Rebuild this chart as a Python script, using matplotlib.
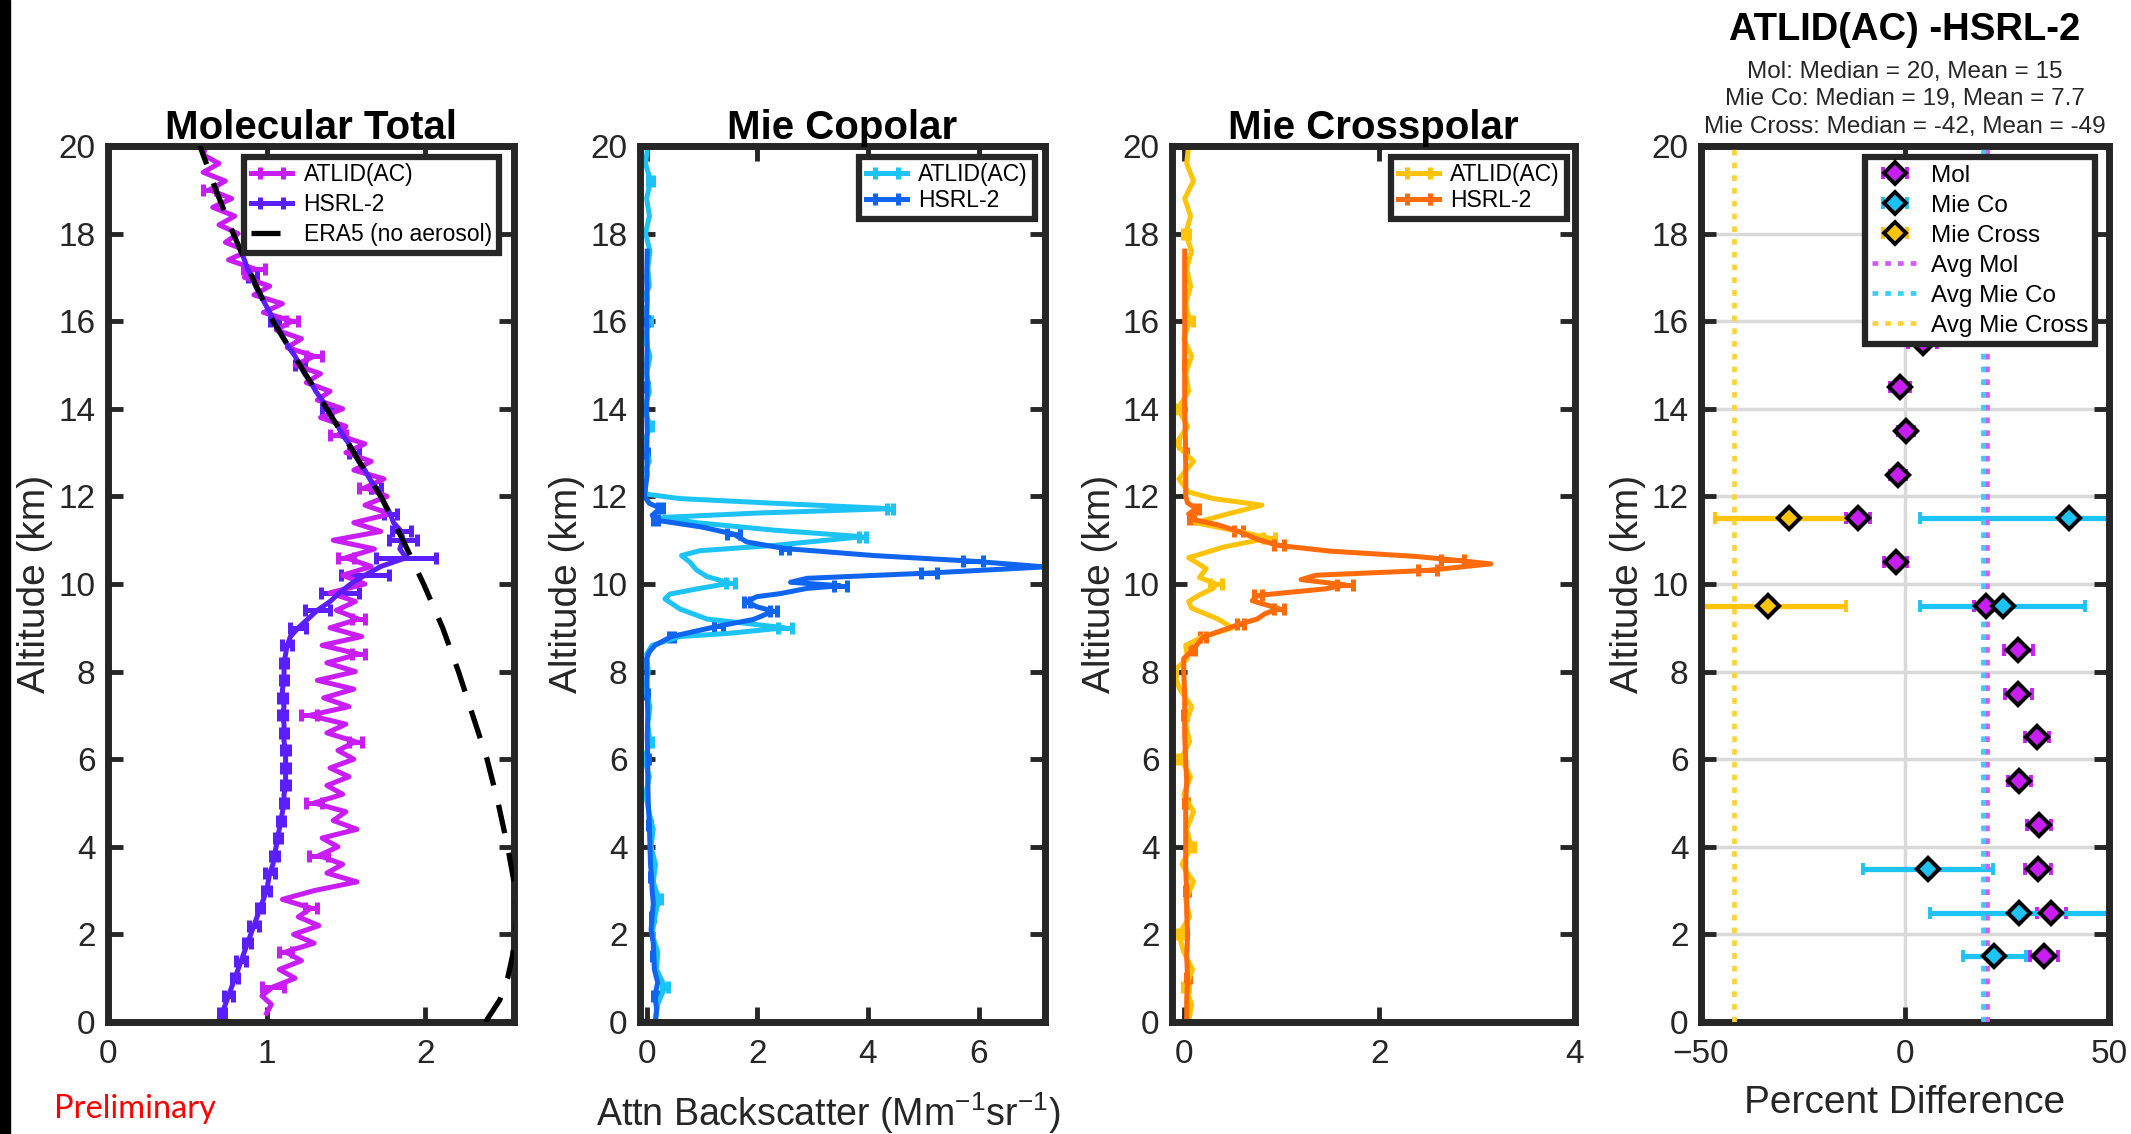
import numpy as np
import matplotlib
matplotlib.use("Agg")
import matplotlib.pyplot as plt
from matplotlib.patches import Rectangle

plt.rcParams['font.family'] = ['Liberation Sans', 'DejaVu Sans']
plt.rcParams['mathtext.fontset'] = 'custom'
plt.rcParams['mathtext.rm'] = 'Liberation Sans'
plt.rcParams['mathtext.it'] = 'Liberation Sans:italic'
plt.rcParams['mathtext.bf'] = 'Liberation Sans:bold'

# ---------------- Panel 1: Molecular Total ----------------
mol_atlid_alt = np.round(np.arange(0.2, 20.001, 0.2), 1)
mol_atlid = [1.00, 1.03, 0.97, 1.04, 1.18, 1.08, 1.22, 1.12, 1.30, 1.17,
             1.33, 1.20, 1.28, 1.10, 1.30, 1.57, 1.38, 1.48, 1.33, 1.45,
             1.35, 1.57, 1.42, 1.50, 1.30, 1.48, 1.38, 1.52, 1.40, 1.55,
             1.45, 1.56, 1.38, 1.50, 1.27, 1.52, 1.36, 1.55, 1.32, 1.56,
             1.38, 1.58, 1.35, 1.60, 1.40, 1.58, 1.44, 1.56, 1.40, 1.62,
             1.48, 1.66, 1.50, 1.68, 1.42, 1.72, 1.55, 1.78, 1.62, 1.76,
             1.62, 1.74, 1.55, 1.66, 1.50, 1.62, 1.45, 1.50, 1.34, 1.48,
             1.32, 1.40, 1.25, 1.34, 1.18, 1.30, 1.13, 1.22, 1.06, 1.16,
             0.98, 1.10, 0.92, 1.02, 0.86, 0.92, 0.76, 0.88, 0.74, 0.82,
             0.70, 0.80, 0.66, 0.78, 0.64, 0.74, 0.60, 0.70, 0.60, 0.62]
mol_atlid_err_alt = [0.8, 1.6, 2.6, 3.8, 5.0, 6.4, 7.0, 8.4, 9.2, 10.6, 12.2, 13.4, 15.2, 16.0, 17.2, 19.0]
mol_atlid_err = [0.07, 0.04, 0.04, 0.06, 0.05, 0.04, 0.05, 0.04, 0.04, 0.05, 0.04, 0.05, 0.05, 0.04, 0.07, 0.04]

mol_hsrl_alt = np.round(np.arange(0.0, 17.601, 0.2), 1)
mol_hsrl = [0.71, 0.72, 0.74, 0.76, 0.78, 0.80, 0.82, 0.84, 0.86, 0.88,
            0.90, 0.92, 0.94, 0.96, 0.98, 1.00, 1.01, 1.02, 1.04, 1.05,
            1.06, 1.07, 1.08, 1.09, 1.10, 1.11, 1.11, 1.12, 1.12, 1.12,
            1.12, 1.12, 1.11, 1.11, 1.11, 1.10, 1.11, 1.10, 1.10, 1.11,
            1.11, 1.11, 1.12, 1.13, 1.15, 1.20, 1.26, 1.32, 1.40, 1.46,
            1.53, 1.62, 1.72, 1.88, 1.84, 1.86, 1.85, 1.80, 1.78, 1.75,
            1.72, 1.69, 1.65, 1.62, 1.58, 1.55, 1.52, 1.48, 1.45, 1.41,
            1.38, 1.35, 1.31, 1.28, 1.24, 1.21, 1.18, 1.14, 1.11, 1.08,
            1.05, 1.02, 0.99, 0.96, 0.93, 0.91, 0.88, 0.86, 0.84]
mol_hsrl_err_alt = [0.2, 0.6, 1.0, 1.4, 1.8, 2.2, 2.6, 3.0, 3.4, 3.8,
                    4.2, 4.6, 5.0, 5.4, 5.8, 6.2, 6.6, 7.0, 7.4, 7.8,
                    8.2, 8.6, 9.0, 9.4, 9.8, 10.2, 10.6, 11.0, 11.2, 11.6,
                    12.2, 13.0, 14.0, 15.0, 16.0, 17.0]
mol_hsrl_err = [0.02, 0.03, 0.02, 0.03, 0.02, 0.03, 0.02, 0.02, 0.03, 0.02,
                0.02, 0.02, 0.02, 0.02, 0.02, 0.02, 0.02, 0.02, 0.02, 0.02,
                0.02, 0.03, 0.05, 0.08, 0.12, 0.15, 0.19, 0.09, 0.06, 0.04,
                0.03, 0.03, 0.03, 0.03, 0.03, 0.03]

era5_alt = [0, 0.5, 1, 1.5, 2, 2.5, 3, 4, 5, 6, 7, 8, 9, 10, 11, 12, 13, 14, 15, 16, 17, 18, 19, 20, 20.5]
era5 = [2.38, 2.47, 2.52, 2.55, 2.57, 2.58, 2.57, 2.52, 2.46, 2.39, 2.30, 2.21, 2.11, 1.99,
        1.86, 1.72, 1.55, 1.38, 1.21, 1.04, 0.91, 0.79, 0.68, 0.58, 0.54]

# ---------------- Panel 2: Mie Copolar ----------------
co_atlid_alt = [0.0, 0.4, 0.8, 1.2, 1.6, 2.0, 2.4, 2.8, 3.2, 3.6,
                4.0, 4.4, 4.8, 5.2, 5.6, 6.0, 6.4, 6.8, 7.2, 7.6,
                8.0, 8.4, 8.6, 8.8, 8.87, 9.0, 9.1, 9.2, 9.43, 9.66,
                9.77, 9.9, 10.02, 10.17, 10.32, 10.5, 10.65, 10.76, 10.88, 11.08,
                11.23, 11.4, 11.52, 11.62, 11.72, 11.85, 11.95, 12.05, 12.4, 12.8,
                13.2, 13.6, 14.0, 14.4, 14.8, 15.2, 15.6, 16.0, 16.4, 16.8,
                17.2, 17.6, 18.0, 18.4, 18.8, 19.2, 19.6, 20.0]
co_atlid = [0.15, 0.20, 0.33, 0.18, 0.20, 0.10, 0.15, 0.22, 0.12, 0.16,
            0.08, 0.12, 0.04, -0.02, 0.05, -0.04, 0.06, 0.02, 0.06, -0.02,
            0.03, 0.00, 0.10, 0.60, 1.45, 2.50, 1.81, 1.09, 0.60, 0.33,
            0.42, 0.96, 1.51, 1.09, 0.90, 0.78, 0.63, 0.96, 2.29, 3.90,
            2.30, 0.90, 0.30, 2.00, 4.40, 2.20, 0.60, 0.00, -0.10, 0.05,
            -0.05, 0.06, -0.04, 0.05, 0.00, 0.06, -0.03, 0.04, -0.10, 0.05,
            0.02, 0.06, -0.02, 0.05, 0.00, 0.07, -0.02, 0.02]
co_atlid_err_alt = [0.8, 2.8, 6.4, 9.0, 10.02, 11.08, 11.72, 13.6, 16.0, 19.2]
co_atlid_err = [0.05, 0.04, 0.04, 0.12, 0.08, 0.06, 0.05, 0.04, 0.04, 0.04]

co_hsrl_alt = [0.0, 0.3, 0.6, 0.9, 1.2, 1.5, 1.8, 2.1, 2.4, 2.7,
               3.0, 3.3, 3.6, 4.0, 4.5, 5.0, 5.5, 6.0, 6.5, 7.0,
               7.5, 8.0, 8.3, 8.45, 8.6, 8.8, 9.04, 9.19, 9.38, 9.48,
               9.6, 9.71, 9.78, 9.9, 9.96, 10.04, 10.13, 10.25, 10.39, 10.52,
               10.65, 10.81, 10.96, 11.14, 11.3, 11.46, 11.57, 11.73, 11.84, 12.0,
               12.5, 13.0, 13.5, 14.0, 14.5, 15.0, 15.5, 16.0, 16.5, 17.0,
               17.6]
co_hsrl = [0.16, 0.18, 0.15, 0.20, 0.14, 0.13, 0.12, 0.08, 0.10, 0.12,
           0.10, 0.09, 0.07, 0.06, 0.05, 0.03, 0.02, 0.02, 0.01, 0.02,
           0.01, 0.00, 0.00, 0.05, 0.15, 0.45, 1.30, 1.93, 2.29, 1.99,
           1.81, 1.99, 2.41, 2.90, 3.50, 2.60, 2.90, 5.10, 7.20, 5.90,
           4.10, 2.50, 1.81, 1.57, 1.00, 0.16, 0.10, 0.25, 0.05, -0.04,
           0.01, 0.00, 0.01, 0.00, 0.01, 0.00, 0.01, 0.00, 0.01, 0.00,
           0.01]
co_hsrl_err_alt = [0.6, 1.5, 2.4, 3.3, 4.5, 6.0, 7.5, 8.8, 9.04, 9.38, 9.6, 9.96,
                   10.25, 10.52, 10.81, 11.14, 11.46, 11.73, 13.0, 14.5, 16.0]
co_hsrl_err = [0.03, 0.03, 0.03, 0.03, 0.02, 0.02, 0.02, 0.05, 0.08, 0.06, 0.05, 0.12,
               0.15, 0.18, 0.08, 0.12, 0.05, 0.05, 0.02, 0.02, 0.02]

# ---------------- Panel 3: Mie Crosspolar ----------------
cr_atlid_alt = [0.0, 0.4, 0.8, 1.2, 1.6, 2.0, 2.4, 2.8, 3.2, 3.6,
                4.0, 4.4, 4.8, 5.2, 5.6, 6.0, 6.4, 6.8, 7.2, 7.6,
                8.0, 8.3, 8.6, 8.8, 9.0, 9.2, 9.45, 9.6, 9.75, 9.9,
                10.0, 10.15, 10.35, 10.6, 10.85, 11.05, 11.2, 11.4, 11.6, 11.8,
                11.95, 12.1, 12.4, 12.8, 13.2, 13.6, 14.0, 14.4, 14.8, 15.2,
                15.6, 16.0, 16.4, 16.8, 17.2, 17.6, 18.0, 18.4, 18.8, 19.2,
                19.6, 20.0]
cr_atlid = [0.05, 0.08, 0.02, 0.09, 0.00, -0.05, 0.06, 0.02, 0.10, -0.02,
            0.08, 0.03, 0.10, 0.00, 0.07, -0.03, 0.06, 0.02, 0.08, -0.04,
            -0.11, 0.04, 0.02, 0.20, 0.50, 0.35, 0.08, 0.05, 0.16, 0.30,
            0.33, 0.16, 0.23, 0.05, 0.42, 0.87, 0.56, 0.12, 0.45, 0.80,
            0.30, 0.05, -0.05, 0.10, -0.08, 0.04, -0.06, 0.05, 0.02, 0.08,
            0.00, 0.06, 0.02, 0.07, 0.03, 0.08, 0.02, 0.07, 0.01, 0.10,
            0.03, 0.05]
cr_atlid_err_alt = [0.8, 2.0, 4.0, 6.0, 8.0, 10.0, 11.05, 13.2, 14.0, 16.0, 18.0]
cr_atlid_err = [0.03, 0.03, 0.03, 0.03, 0.03, 0.06, 0.06, 0.03, 0.03, 0.03, 0.03]

cr_hsrl_alt = [0.0, 0.5, 1.0, 1.5, 2.0, 2.5, 3.0, 3.5, 4.0, 4.5,
               5.0, 5.5, 6.0, 6.5, 7.0, 7.5, 8.0, 8.3, 8.49, 8.79,
               9.09, 9.2, 9.32, 9.44, 9.55, 9.62, 9.74, 9.89, 9.98, 10.1,
               10.2, 10.31, 10.46, 10.55, 10.63, 10.75, 10.88, 11.0, 11.2, 11.35,
               11.48, 11.6, 11.72, 11.85, 12.0, 12.5, 13.0, 14.0, 15.0, 16.0,
               17.0, 17.6]
cr_hsrl = [0.03, 0.03, 0.04, 0.03, 0.04, 0.03, 0.03, 0.02, 0.02, 0.02,
           0.02, 0.03, 0.02, 0.01, 0.01, 0.01, 0.00, 0.00, 0.09, 0.20,
           0.58, 0.75, 0.83, 0.97, 0.80, 0.70, 0.76, 1.45, 1.65, 1.20,
           1.35, 2.49, 3.14, 2.75, 2.37, 1.50, 0.97, 0.78, 0.56, 0.35,
           0.08, 0.05, 0.13, 0.04, 0.02, 0.02, 0.02, 0.01, 0.01, 0.01,
           0.01, 0.01]
cr_hsrl_err_alt = [1.0, 3.0, 5.0, 7.0, 8.49, 8.79, 9.09, 9.44, 9.74, 9.98, 10.31, 10.55,
                   10.88, 11.2, 11.48, 11.72, 13.0, 15.0]
cr_hsrl_err = [0.02, 0.02, 0.02, 0.02, 0.03, 0.03, 0.04, 0.05, 0.04, 0.08, 0.10, 0.12,
               0.05, 0.05, 0.03, 0.03, 0.01, 0.01]

# ---------------- Panel 4: ATLID(AC) - HSRL-2 ----------------
pd_mol_alt = [1.5, 2.5, 3.5, 4.5, 5.5, 6.5, 7.5, 8.5, 9.5, 10.5, 11.5, 12.5, 13.5, 14.5, 15.5]
pd_mol = [34.1, 35.9, 32.7, 32.9, 28.0, 32.4, 27.8, 27.8, 19.9, -2.3, -11.5, -1.7, 0.2, -1.2, 4.3]
pd_mol_err = [3.5, 3.5, 3.2, 3.0, 2.8, 3.0, 3.3, 3.5, 3.0, 2.8, 3.0, 2.0, 2.0, 2.5, 3.5]
pd_co_alt = [1.5, 2.5, 3.5, 9.5, 11.5]
pd_co = [21.9, 28.0, 5.6, 23.9, 40.3]
pd_co_err = [7.7, 21.9, 16.0, 20.2, 36.6]
pd_cross_alt = [9.5, 11.5]
pd_cross = [-33.5, -28.5]
pd_cross_err = [19.1, 18.1]
median_mol, mean_mol = 20, 15
median_co, mean_co = 19, 7.7
median_cross, mean_cross = -42, -49

# ---------------- colours ----------------
C_ATLID_MOL = '#C81EF5'
C_HSRL_MOL = '#5A1EFF'
C_ATLID_CO = '#1EC3F5'
C_HSRL_CO = '#0F64F0'
C_ATLID_CR = '#FFC40A'
C_HSRL_CR = '#FF6A0A'
DARK = '#262626'
LW = 3.6

W, H = 2131, 1134
fig = plt.figure(figsize=(W / 100, H / 100), dpi=100)
fig.patches.append(Rectangle((0, 0), 10 / W, 1, transform=fig.transFigure, color='black', zorder=0))

ax_top, ax_bot = 146, 1022
lefts = [108, 640, 1172, 1701]
widths = [406, 405, 403, 408]
axes = [fig.add_axes([l / W, 1 - ax_bot / H, w / W, (ax_bot - ax_top) / H]) for l, w in zip(lefts, widths)]


def style(ax):
    for s in ax.spines.values():
        s.set_linewidth(5)
        s.set_color(DARK)
    ax.tick_params(direction='in', length=11, width=3.5, colors=DARK, labelsize=24,
                   top=True, right=True)
    ax.tick_params(axis='y', pad=9)
    ax.tick_params(axis='x', pad=12)
    ax.set_ylim(0, 20)
    ax.set_yticks(range(0, 21, 2))
    ax.set_ylabel('Altitude (km)', fontsize=28, color=DARK)
    ax.yaxis.set_label_coords(-0.135, 0.5)


def profile(ax, vals, alts, err_alts, errs, color, label, zorder=2):
    vals = np.asarray(vals, float)
    alts = np.asarray(alts, float)
    full = np.zeros_like(vals)
    for a, e in zip(err_alts, errs):
        full[np.argmin(np.abs(alts - a))] = e
    mask = full > 0
    return ax.errorbar(vals, alts, xerr=full, errorevery=mask, color=color, lw=LW,
                       elinewidth=LW, capsize=4.5, capthick=LW, label=label, zorder=zorder)


def legend(ax, handles, anchor, fs=17, hl=2.2, ls=0.35):
    leg = ax.legend(handles=handles, loc='upper right', bbox_to_anchor=anchor, fontsize=fs,
                    frameon=True, fancybox=False, edgecolor=DARK, framealpha=1,
                    borderpad=0.3, labelspacing=ls, handlelength=hl, handletextpad=0.5,
                    borderaxespad=0)
    leg.get_frame().set_linewidth(4.5)
    leg.set_zorder(10)
    return leg


# Panel 1
ax = axes[0]
h1 = profile(ax, mol_atlid, mol_atlid_alt, mol_atlid_err_alt, mol_atlid_err, C_ATLID_MOL, 'ATLID(AC)')
h2 = profile(ax, mol_hsrl, mol_hsrl_alt, mol_hsrl_err_alt, mol_hsrl_err, C_HSRL_MOL, 'HSRL-2')
h3, = ax.plot(era5, era5_alt, color='black', lw=3.8, dashes=(5.5, 3.8), label='ERA5 (no aerosol)', zorder=4)
style(ax)
ax.set_xlim(0, 2.56)
ax.set_xticks([0, 1, 2])
ax.set_title('Molecular Total', fontsize=29, fontweight='bold', pad=5)
legend(ax, [h1, h2, h3], (0.962, 0.988), fs=16.5, hl=1.8, ls=0.3)

# Panel 2
ax = axes[1]
h1 = profile(ax, co_atlid, co_atlid_alt, co_atlid_err_alt, co_atlid_err, C_ATLID_CO, 'ATLID(AC)')
h2 = profile(ax, co_hsrl, co_hsrl_alt, co_hsrl_err_alt, co_hsrl_err, C_HSRL_CO, 'HSRL-2')
style(ax)
ax.set_xlim(-0.12, 7.2)
ax.set_xticks([0, 2, 4, 6])
ax.set_title('Mie Copolar', fontsize=29, fontweight='bold', pad=5)
ax.set_xlabel('Attn Backscatter (Mm$^{-1}$sr$^{-1}$)', fontsize=27, color=DARK)
ax.xaxis.set_label_coords(0.465, -0.078)
legend(ax, [h1, h2], (0.975, 0.988), fs=16.5, hl=1.8, ls=0.1)

# Panel 3
ax = axes[2]
h1 = profile(ax, cr_atlid, cr_atlid_alt, cr_atlid_err_alt, cr_atlid_err, C_ATLID_CR, 'ATLID(AC)')
h2 = profile(ax, cr_hsrl, cr_hsrl_alt, cr_hsrl_err_alt, cr_hsrl_err, C_HSRL_CR, 'HSRL-2')
style(ax)
ax.set_xlim(-0.12, 4.0)
ax.set_xticks([0, 2, 4])
ax.set_title('Mie Crosspolar', fontsize=29, fontweight='bold', pad=5)
legend(ax, [h1, h2], (0.98, 0.988), fs=16.5, hl=1.8, ls=0.1)

# Panel 4
ax = axes[3]
ax.grid(True, color='#D9D9D9', lw=2.5, zorder=0)
ax.set_axisbelow(True)
kw = dict(fmt='D', ms=11, mec='black', mew=2.8, lw=3.8, elinewidth=3.8, capsize=4, capthick=3.8, zorder=2)
e1 = ax.errorbar(pd_mol, pd_mol_alt, xerr=pd_mol_err, color=C_ATLID_MOL, mfc=C_ATLID_MOL, label='Mol', **kw)
e2 = ax.errorbar(pd_co, pd_co_alt, xerr=pd_co_err, color=C_ATLID_CO, mfc=C_ATLID_CO, label='Mie Co', **kw)
e3 = ax.errorbar(pd_cross, pd_cross_alt, xerr=pd_cross_err, color=C_ATLID_CR, mfc=C_ATLID_CR,
                 label='Mie Cross', **kw)
dot = (0, (1.2, 1.5))
l1 = ax.axvline(median_mol, color='#D25AFF', lw=3.4, ls=dot, label='Avg Mol', zorder=3)
l2 = ax.axvline(median_co, color='#3CCDF2', lw=3.4, ls=dot, label='Avg Mie Co', zorder=3)
l3 = ax.axvline(median_cross, color='#FFD23C', lw=3.4, ls=dot, label='Avg Mie Cross', zorder=3)
for vals, alts, c in [(pd_mol, pd_mol_alt, C_ATLID_MOL), (pd_co, pd_co_alt, C_ATLID_CO),
                      (pd_cross, pd_cross_alt, C_ATLID_CR)]:
    ax.plot(vals, alts, 'D', ms=11, mfc=c, mec='black', mew=2.8, zorder=4)
style(ax)
ax.set_xlim(-50, 50)
ax.set_xticks([-50, 0, 50])
ax.set_xlabel('Percent Difference', fontsize=28, color=DARK)
ax.xaxis.set_label_coords(0.5, -0.072)
legend(ax, [e1, e2, e3, l1, l2, l3], (0.966, 0.987), fs=17.5, hl=1.9, ls=0.33)

cx = (1701 + 2109) / 2 / W
fig.text(cx, 1 - 29.5 / H, 'ATLID(AC) -HSRL-2', ha='center', va='center', fontsize=27.5, fontweight='bold')
fig.text(cx, 1 - 72 / H, f'Mol: Median = {median_mol}, Mean = {mean_mol}', ha='center', va='center',
         fontsize=17.5, color=DARK)
fig.text(cx, 1 - 99.5 / H, f'Mie Co: Median = {median_co}, Mean = {mean_co}', ha='center', va='center',
         fontsize=17.5, color=DARK)
fig.text(cx, 1 - 127 / H, f'Mie Cross: Median = {median_cross}, Mean = {mean_cross}', ha='center',
         va='center', fontsize=17.5, color=DARK)

fig.text(54 / W, 1 - 1109 / H, 'Preliminary', color='red', fontsize=23.5, family=['Lato', 'DejaVu Sans'],
         ha='left', va='center')

fig.savefig('out.png', dpi=100, facecolor='white')
